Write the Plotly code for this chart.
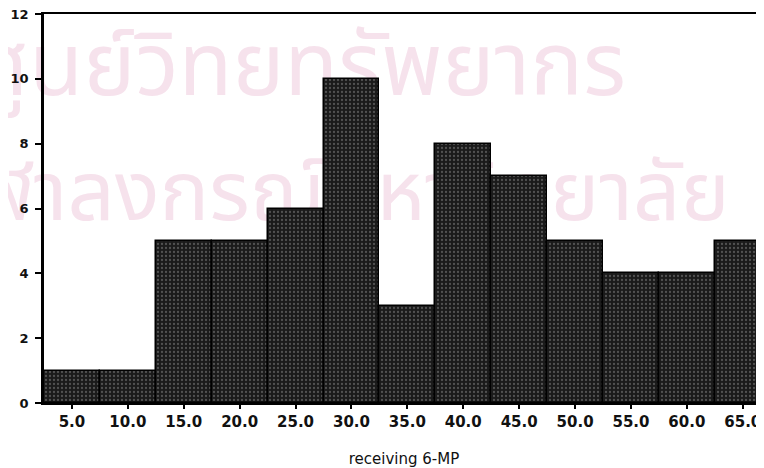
import plotly.graph_objects as go

# Data
bin_centers = [5, 10, 15, 20, 25, 30, 35, 40, 45, 50, 55, 60, 65]
counts = [1, 1, 5, 5, 6, 10, 3, 8, 7, 5, 4, 4, 5]
tick_vals = [5, 10, 15, 20, 25, 30, 35, 40, 45, 50, 55, 60, 65]
y_ticks = [0, 2, 4, 6, 8, 10, 12]
x_title = "receiving 6-MP"
watermark_lines = ["ศูนย์วิทยทรัพยากร", "จุฬาลงกรณ์มหาวิทยาลัย"]
watermark_x = [300, 332]
watermark_y = [73, 199]

fig = go.Figure()

# Watermark (drawn on base axes, below the bar overlay)
fig.add_trace(go.Scatter(
    x=watermark_x, y=watermark_y, text=watermark_lines, mode="text",
    textposition="middle center", cliponaxis=False, hoverinfo="skip",
    textfont=dict(family="Noto Sans Thai, Noto Sans, sans-serif", size=[88, 83], color="#f6e2ec"),
    xaxis="x", yaxis="y", showlegend=False,
))

# Histogram bars on overlaying axes
fig.add_trace(go.Bar(
    x=bin_centers, y=counts, width=5,
    marker=dict(color="#1a1a1a", line=dict(color="#000000", width=1.5),
                pattern=dict(shape=".", fgcolor="#8a8a8a", bgcolor="#1a1a1a", size=4, solidity=0.25)),
    xaxis="x2", yaxis="y2", showlegend=False,
))

xfont = dict(family="DejaVu Sans", size=15, color="#111111", weight="bold")
yfont = dict(family="DejaVu Sans", size=13, color="#111111", weight="bold")

# page body has an 8px margin, so the figure is sized to end at the window edge
fig.update_layout(
    width=756, height=460,
    margin=dict(l=36, r=0, t=6, b=65),
    paper_bgcolor="white", plot_bgcolor="rgba(0,0,0,0)",
    bargap=0,
    xaxis=dict(range=[44, 764], visible=False, fixedrange=True),
    yaxis=dict(range=[403, 14], visible=False, fixedrange=True),
    xaxis2=dict(overlaying="x", range=[2.5, 66.9], tickvals=tick_vals, tickformat=".1f",
                showline=True, linecolor="#000000", linewidth=2, mirror=True,
                ticks="outside", ticklen=4, tickwidth=1.5, tickcolor="#000000",
                ticklabeloverflow="allow",
                showgrid=False, zeroline=False, tickfont=xfont,
                title=dict(text=x_title, font=dict(family="DejaVu Sans", size=15, color="#111111"), standoff=26)),
    yaxis2=dict(overlaying="y", range=[0, 12], tickvals=y_ticks,
                showline=True, linecolor="#000000", linewidth=2.5, mirror=False,
                ticks="outside", ticklen=6, tickwidth=1.5, tickcolor="#000000",
                ticklabelstandoff=4, ticklabeloverflow="allow",
                showgrid=False, zeroline=False, tickfont=yfont),
)

fig.write_html("out.html")
